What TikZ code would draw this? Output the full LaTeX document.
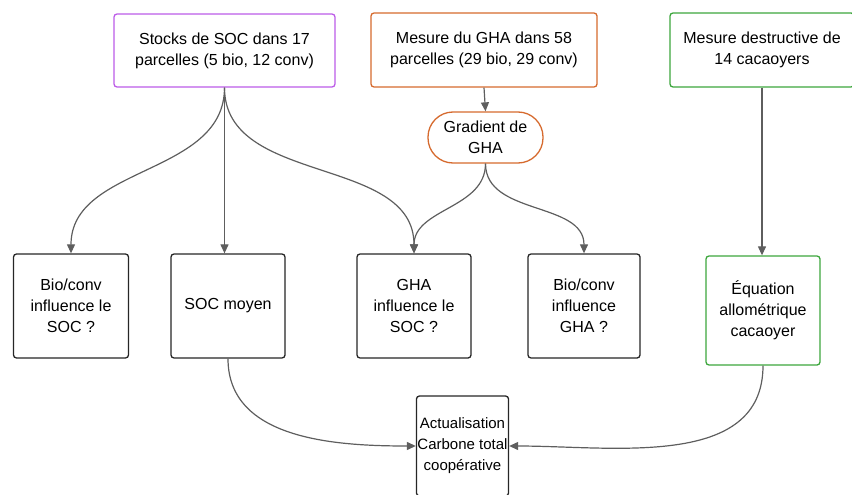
\documentclass[tikz,border=0pt]{standalone}
\usepackage{fontspec}
\setmainfont{Liberation Sans}
\usepackage{tikz}
\usetikzlibrary{arrows.meta}

\definecolor{socviolet}{HTML}{BC5CE8}
\definecolor{ghaorange}{HTML}{D66A2E}
\definecolor{cacaogreen}{HTML}{3DA63D}
\definecolor{linkgray}{HTML}{5E5E5E}

\begin{document}
\begin{tikzpicture}[x=1pt, y=-1pt,
      box/.style={draw=black!85, line width=1.3pt, rounded corners=3pt,
         fill=white, align=center, inner sep=1pt,
         font=\fontsize{16}{21}\selectfont},
      link/.style={draw=linkgray, line width=1.2pt,
         -{Triangle[length=9pt, width=8pt]}}]
      \useasboundingbox (0,0) rectangle (852,495);

      % sources
      \node (soc) at (224.5,50.5) [box, draw=socviolet,
         minimum width=221, minimum height=73]
         {Stocks de SOC dans 17\\parcelles (5 bio, 12 conv)};
      \node (gha) at (484,50) [box, draw=ghaorange,
         minimum width=226, minimum height=74]
         {Mesure du GHA dans 58\\parcelles (29 bio, 29 conv)};
      \node (dest) at (762,50) [box, draw=cacaogreen,
         minimum width=184, minimum height=74]
         {Mesure destructive de\\14 cacaoyers};
      \node (grad) at (485.5,137.5) [box, draw=ghaorange,
         rounded corners=25pt, minimum width=115, minimum height=51]
         {Gradient de\\GHA};

      % questions
      \node (bioSoc) at (71,306) [box, minimum width=115, minimum height=104]
         {Bio/conv\\influence le\\SOC ?};
      \node (socMoy) at (228,306) [box, minimum width=114, minimum height=104]
         {SOC moyen};
      \node (ghaSoc) at (414,306) [box, minimum width=114, minimum height=104]
         {GHA\\influence le\\SOC ?};
      \node (bioGha) at (584,306) [box, minimum width=112, minimum height=104]
         {Bio/conv\\influence\\GHA ?};
      \node (equ) at (763,310.5) [box, draw=cacaogreen,
         minimum width=114, minimum height=109]
         {Équation\\allométrique\\cacaoyer};
      \node (total) at (462.5,446) [box, minimum width=91, minimum height=100,
         font=\fontsize{15}{21}\selectfont]
         {Actualisation\\Carbone total\\coopérative};

      \draw [link] (soc.south) to[out=-90, in=90] (bioSoc.north);
      \draw [link] (soc.south) -- (socMoy.north -| soc.south);
      \draw [link] (soc.south) to[out=-90, in=90] (ghaSoc.north);
      \draw [link] (gha.south) -- (grad.north);
      \draw [link] (grad.south) to[out=-90, in=90] (ghaSoc.north);
      \draw [link] (grad.south) to[out=-90, in=90] (bioGha.north);
      \draw [link] (dest.south) -- (equ.north -| dest.south);
      \draw [link] (socMoy.south) to[out=-90, in=180] (total.west);
      \draw [link] (equ.south) to[out=-90, in=0] (total.east);
   \end{tikzpicture}
\end{document}
